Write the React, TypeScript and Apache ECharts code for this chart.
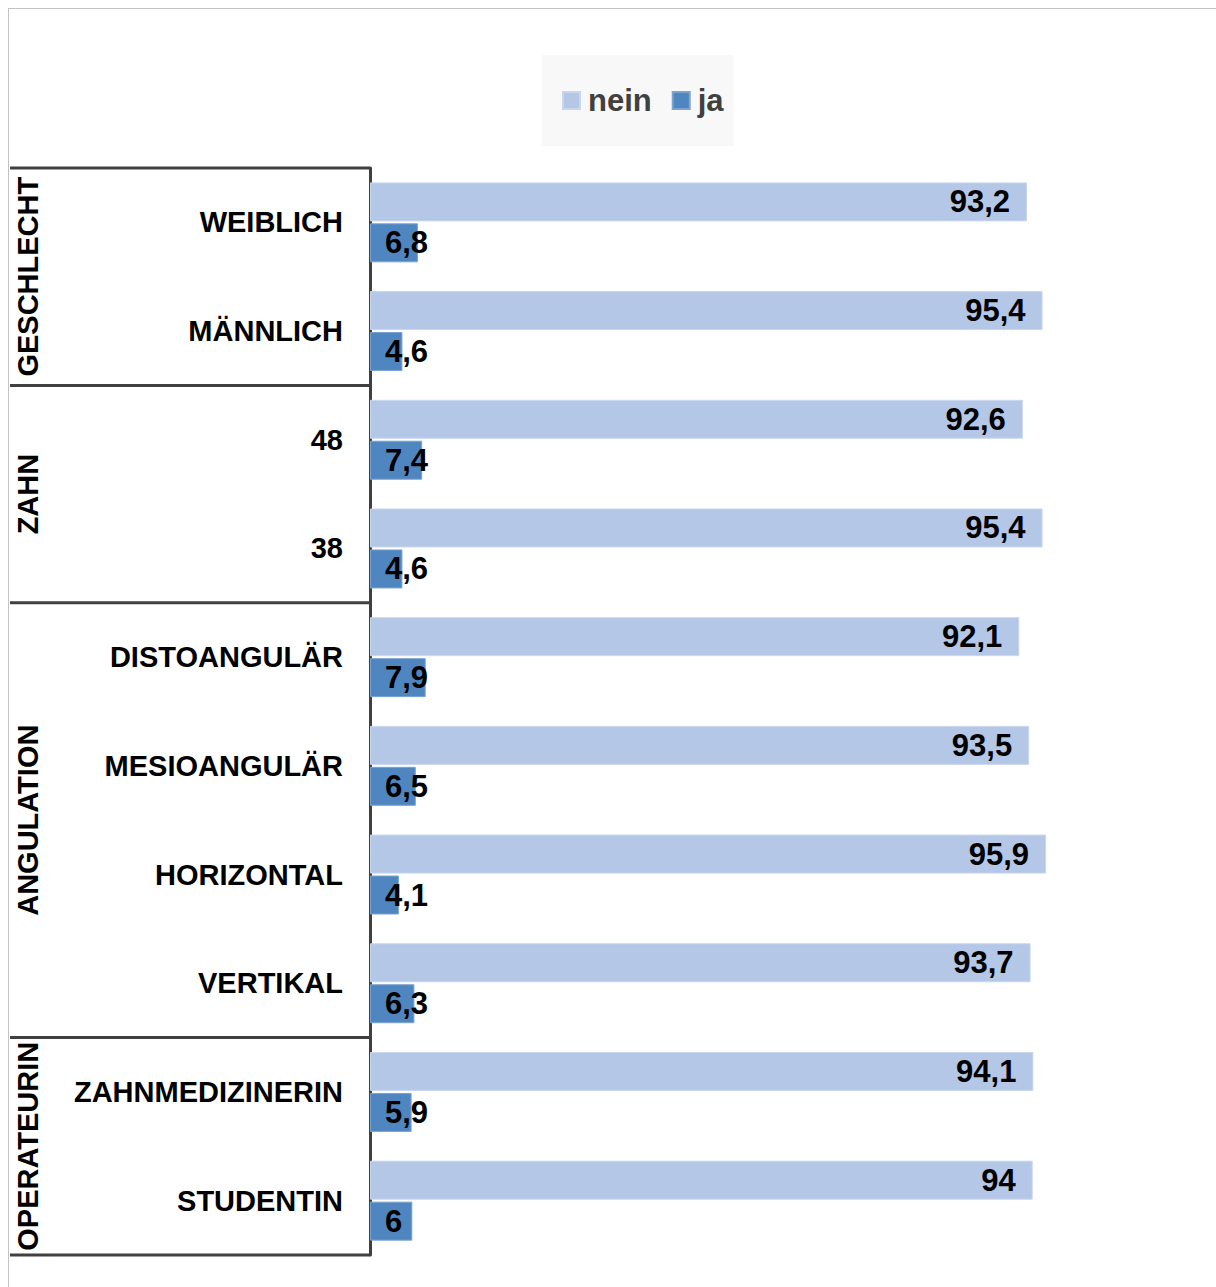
import React, { useEffect, useRef } from "react";
import * as echarts from "echarts";

const categories = [
  "WEIBLICH",
  "MÄNNLICH",
  "48",
  "38",
  "DISTOANGULÄR",
  "MESIOANGULÄR",
  "HORIZONTAL",
  "VERTIKAL",
  "ZAHNMEDIZINERIN",
  "STUDENTIN",
];
const neinValues = [93.2, 95.4, 92.6, 95.4, 92.1, 93.5, 95.9, 93.7, 94.1, 94];
const jaValues = [6.8, 4.6, 7.4, 4.6, 7.9, 6.5, 4.1, 6.3, 5.9, 6];
const groupNames = ["GESCHLECHT", "ZAHN", "ANGULATION", "OPERATEURIN"];
const groupSizes = [2, 2, 4, 2];

const FONT = "'Liberation Sans', Arial, sans-serif";
const GRID_LEFT = 370;
const GRID_TOP = 168;
const GRID_BOTTOM_Y = 1255;
const GRID_WIDTH = 705;

export default function App() {
  const ref = useRef<HTMLDivElement>(null);
  useEffect(() => {
    document.body.style.margin = "0";
    const chart = echarts.init(ref.current!, null, { renderer: "svg" });
    const band = (GRID_BOTTOM_Y - GRID_TOP) / categories.length;
    const graphics: any[] = [];
    // outer frame
    graphics.push({
      type: "line",
      shape: { x1: 8, y1: 8.5, x2: 1216, y2: 8.5 },
      style: { stroke: "#c3c3c3", lineWidth: 1 },
    });
    graphics.push({
      type: "line",
      shape: { x1: 8.5, y1: 8, x2: 8.5, y2: 1287 },
      style: { stroke: "#c3c3c3", lineWidth: 1 },
    });
    let idx = 0;
    const boundaries = [0];
    groupSizes.forEach((s) => {
      idx += s;
      boundaries.push(idx);
    });
    boundaries.forEach((b) => {
      const y = GRID_TOP + b * band;
      graphics.push({
        type: "line",
        shape: { x1: 10, y1: y, x2: GRID_LEFT, y2: y },
        style: { stroke: "#404040", lineWidth: 3 },
      });
    });
    groupNames.forEach((name, i) => {
      const yc = GRID_TOP + ((boundaries[i] + boundaries[i + 1]) / 2) * band;
      graphics.push({
        type: "text",
        x: 28,
        y: yc,
        rotation: Math.PI / 2,
        style: {
          text: name,
          fontFamily: FONT,
          fontWeight: "bold",
          fontSize: 29,
          fill: "#000",
          align: "center",
          verticalAlign: "middle",
        },
      });
    });

    const fmt = (p: any) => String(p.value).replace(".", ",");

    chart.setOption({
      animation: false,
      backgroundColor: "#fff",
      textStyle: { fontFamily: FONT },
      legend: {
        data: ["nein", "ja"],
        left: 542,
        top: 55,
        orient: "horizontal",
        backgroundColor: "#f8f8f8",
        padding: [30, 10, 30, 20],
        itemWidth: 17,
        itemHeight: 17,
        itemGap: 20,
        icon: "rect",
        textStyle: {
          fontFamily: FONT,
          fontSize: 31,
          fontWeight: "bold",
          color: "#404040",
          padding: [0, 0, 0, 3],
        },
      },
      grid: {
        left: GRID_LEFT,
        top: GRID_TOP,
        width: GRID_WIDTH,
        height: GRID_BOTTOM_Y - GRID_TOP,
        containLabel: false,
      },
      xAxis: {
        type: "value",
        min: 0,
        max: 100,
        show: false,
        splitLine: { show: false },
      },
      yAxis: {
        type: "category",
        data: categories,
        inverse: true,
        axisLine: { show: true, lineStyle: { color: "#404040", width: 3 } },
        axisTick: { show: false },
        axisLabel: {
          margin: 27,
          fontFamily: FONT,
          fontSize: 29,
          fontWeight: "bold",
          color: "#000",
          align: "right",
        },
      },
      series: [
        {
          name: "nein",
          type: "bar",
          data: neinValues,
          barWidth: 39,
          barGap: "5%",
          itemStyle: {
            color: "#b4c7e7",
            borderColor: "#c9d7ee",
            borderWidth: 1,
          },
          label: {
            show: true,
            position: "insideRight",
            distance: 17,
            formatter: fmt,
            fontFamily: FONT,
            fontSize: 31,
            fontWeight: "bold",
            color: "#000",
          },
        },
        {
          name: "ja",
          type: "bar",
          data: jaValues,
          barWidth: 39,
          barGap: "5%",
          itemStyle: {
            color: "#4f86c0",
            borderColor: "#7aa3d0",
            borderWidth: 1,
          },
          label: {
            show: true,
            position: "insideLeft",
            distance: 15,
            formatter: fmt,
            fontFamily: FONT,
            fontSize: 31,
            fontWeight: "bold",
            color: "#000",
          },
        },
      ],
      graphic: graphics,
    });
    return () => chart.dispose();
  }, []);
  return <div ref={ref} style={{ width: 1216, height: 1287 }} />;
}
